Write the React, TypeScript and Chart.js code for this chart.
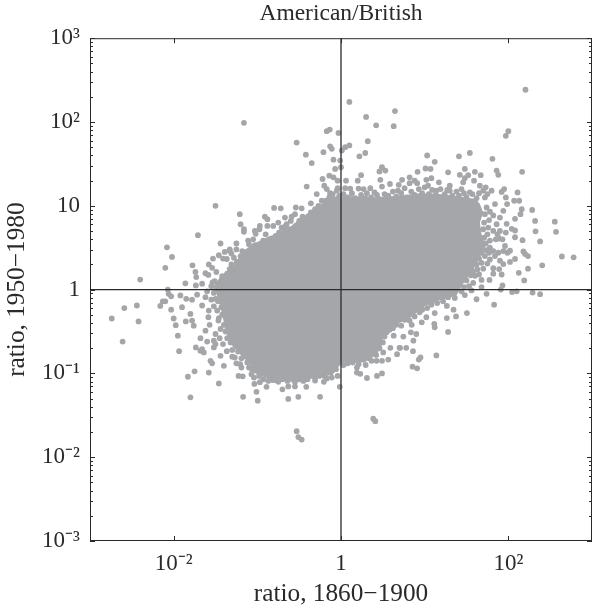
import React, { useEffect, useRef } from "react";
import { Chart, registerables } from "chart.js";

Chart.register(...registerables);

const titleText = "American/British";
const xLabel = "ratio, 1860\u22121900";
const yLabel = "ratio, 1950\u22121980";
const xTicks = [0.01, 1, 100];
const yTicks = [0.001, 0.01, 0.1, 1, 10, 100, 1000];
const yMinorFactors = [2, 3, 4, 5, 6, 7, 8, 9];
const yTickText: Record<string, string> = {
  "0.001": "10\u207B\u00B3", "0.01": "10\u207B\u00B2", "0.1": "10\u207B\u00B9", "1": "1",
  "10": "10", "100": "10\u00B2", "1000": "10\u00B3",
};
const xTickText: Record<string, string> = { "0.01": "10\u207B\u00B2", "1": "1", "100": "10\u00B2" };

// Outline of the solid mass of overlapping dots, as [log10 x, log10 y]
const denseOutline: [number, number][] = [
  [.05,1.12],[.35,1.10],[.70,1.12],[.94,1.15],[1.18,1.14],[1.42,1.11],[1.61,1.08],[1.66,1.02],[1.70,.92],[1.66,.80],
  [1.68,.66],[1.72,.54],[1.66,.38],[1.58,.24],[1.46,.07],[1.38,-.07],[1.17,-.13],[1.00,-.20],[.81,-.35],[.60,-.44],
  [.50,-.56],[.49,-.66],[.43,-.77],[.28,-.87],[.01,-.87],[-.10,-1.02],[-.33,-1.05],[-.49,-1.07],[-.69,-1.07],[-.88,-1.06],
  [-1.05,-.99],[-1.10,-.87],[-1.20,-.78],[-1.31,-.66],[-1.38,-.50],[-1.42,-.29],[-1.47,-.10],[-1.52,.04],[-1.44,.16],[-1.28,.29],
  [-1.16,.47],[-1.02,.56],[-.85,.64],[-.68,.69],[-.48,.85],[-.32,.97],[-.15,1.07],
];

// Individually visible dots, as [log10 x, log10 y]
const upperLeftDots: [number, number][] = [
  [-1.16,1.99],[-1.50,1.00],[-1.71,.65],[-2.02,.39],[-1.44,.55],[-1.21,.90],[-1.20,.78],[-1.16,.72],[-1.16,.69],[-1.11,.585],
  [-1.10,.54],[-1.39,.45],[-1.33,.48],[-1.25,.48],[-1.18,.46],[-1.31,.43],[-1.46,.41],[-1.53,.37],[-1.41,.37],[-1.20,.40],
  [-1.12,.41],[-1.01,.43],[-.97,.40],[-1.02,.665],[-1.03,.70],[-.97,.76],[-.975,.72],[-.91,.87],[-.88,.84],[-.88,.76],
  [-.81,.76],[-.80,.975],[-.72,.97],[-.54,.98],[-.47,.97],[-.41,1.23],[-.36,1.03],[-.67,.86],[-.59,.87],[-.67,.75],
  [-.71,.74],[-.65,.78],[-.77,.62],[-.85,.585],[-.93,.585],[-.89,.505],[-.53,1.755],[-.42,1.61],[-.35,1.51],[-.21,1.64],
  [-.13,1.71],[-.11,1.68],[-.17,1.89],[-.135,1.91],[-.03,1.87],[-.09,1.55],[-.07,1.44],[-.22,1.32],[-.14,1.36],[-.09,1.34],
  [-.20,1.24],[-.17,1.20],[-.29,1.14],[-.23,1.06],[-.13,1.15],[-.05,1.18],[-.04,1.30],[-.01,1.54],[0,1.46],
];
const upperRightDots: [number, number][] = [
  [.10,2.24],[.30,2.06],[.645,2.13],[.42,1.96],[.63,1.95],[.32,1.77],[.10,1.72],[.05,1.70],[.01,1.66],[.29,1.63],
  [.22,1.59],[.24,1.365],[.06,1.30],[.20,1.30],[.49,1.46],[.46,1.41],[.53,1.42],[.47,1.31],[1.03,1.60],[1.12,1.525],
  [1.41,1.59],[1.54,1.63],[1.81,1.56],[.915,1.405],[1.01,1.445],[1.07,1.44],[1.28,1.40],[1.48,1.44],[1.42,1.37],[1.60,1.405],
  [1.67,1.365],[1.52,1.365],[1.48,1.33],[1.59,1.30],[1.86,1.42],[1.88,1.37],[.82,1.34],[.73,1.31],[.88,1.30],[1.02,1.31],
  [1.08,1.33],[1.17,1.28],[1.30,1.24],[1.46,1.28],[1.66,1.24],[1.73,1.22],[1.80,1.18],[.82,1.27],[.91,1.27],[.69,1.25],
  [.585,1.26],[.49,1.23],[.35,1.21],[.27,1.20],[.21,1.205],[.11,1.205],[.05,1.21],[-.04,1.21],[.29,1.09],[.43,1.13],
  [.565,1.12],[.68,1.18],[1.04,1.24],[1.14,1.18],[1.30,1.18],[1.44,1.20],[1.54,1.16],[1.70,1.18],[1.84,1.02],[1.82,.885],
  [1.86,.78],[1.82,.70],[1.78,.585],[2.205,2.385],[2.00,1.89],[1.97,1.835],[2.165,1.405],[2.11,1.16],[1.95,1.20],[1.92,1.165],
  [1.97,1.10],[2.07,1.06],[2.13,1.06],[1.985,1.02],[2.16,.96],[2.145,.90],[2.285,.95],[2.08,.845],[2.32,.82],[2.555,.81],
  [1.94,.94],[1.90,.86],[2.57,.69],[2.325,.695],[2.38,.575],[2.17,.59],[2.08,.705],[2.04,.725],[1.98,.785],[2.08,.625],
  [2.64,.395],[2.78,.385],[2.405,.29],[2.235,.25],[2.125,.20],[2.19,.11],[2.18,.455],[2.20,.425],[2.235,.40],[2.08,.365],
  [2.02,.465],[2.02,.33],[1.94,.305],[1.90,.345],[1.89,.245],[1.82,.255],[1.92,.18],[1.82,.19],[1.775,.115],[1.93,.05],
  [1.91,0],[2.045,-.03],[2.10,-.02],[2.29,-.035],[2.38,-.055],[1.74,-.05],[1.68,.03],[1.68,.115],[1.60,.165],[1.50,.11],[1.56,-.01],
];
const lowerRightDots: [number, number][] = [
  [1.83,-.18],[1.62,-.115],[1.48,-.065],[1.505,-.28],[1.265,-.195],[1.345,-.24],[1.375,-.32],[1.265,-.34],[1.28,-.505],[1.14,-.785],
  [.95,-.81],[.93,-.835],[.855,-.92],[.91,-.94],[.86,-.735],[.78,-.695],[.705,-.695],[.865,-.61],[.90,-.53],[.835,-.51],
  [.745,-.56],[1.12,-.45],[1.115,-.41],[.965,-.39],[1.02,-.33],[1.12,-.28],[.94,-.27],[.845,-.42],[.385,-1.54],[.41,-1.57],
  [.31,-1.055],[.43,-1.03],[.49,-1.00],[.23,-1.005],[.19,-.99],[.21,-.89],[.295,-.90],[.565,-.835],[.67,-.77],[.70,-.695],
  [.59,-.695],[.505,-.75],[.49,-.85],[.425,-.85],[.365,-.85],[.63,-.55],[.545,-.51],
];
const lowerLeftDots: [number, number][] = [
  [-.53,-1.69],[-.51,-1.76],[-.47,-1.79],[-1.17,-1.28],[-.995,-1.325],[-1.01,-1.22],[-1.46,-1.12],[-1.58,-.99],[-1.40,-.91],[-1.54,-.88],
  [-1.56,-.85],[-1.64,-.75],[-1.68,-.73],[-1.52,-.69],[-1.44,-.79],[-1.365,-.735],[-1.27,-.81],[-1.205,-.89],[-1.19,-.93],[-1.225,-1.03],
  [-1.175,-1.035],[-1.065,-.95],[-1.035,-1.125],[-.97,-1.105],[-.89,-1.16],[-.70,-1.19],[-.63,-1.305],[-.51,-1.28],[-.25,-1.28],[-.415,-1.16],
  [-.63,-1.155],[-.55,-1.155],[-.015,-1.16],[-.31,-1.085],[-.205,-1.10],[-.415,-1.055],[-.79,-1.08],[-1.62,-.49],[-1.52,-.61],
  [-2.08,.505],[-2.10,.26],[-2.40,.12],[-1.775,.29],[-1.74,.21],[-1.73,.15],[-1.86,.075],[-1.735,.05],[-1.66,.07],[-2.07,0],
  [-2.06,-.05],[-2.03,-.08],[-1.92,-.07],[-1.85,-.11],[-1.78,-.12],[-1.72,-.06],[-1.62,.195],[-1.585,.175],[-1.535,.087],[-1.54,.26],
  [-1.49,.21],[-2.13,-.14],[-2.10,-.14],[-2.16,-.195],[-2.44,-.19],[-2.59,-.22],[-2.74,-.345],[-2.42,-.38],[-2.61,-.62],[-2.03,-.24],
  [-2.00,-.345],[-1.975,-.425],[-1.95,-.55],[-1.935,-.735],[-1.83,-1.04],[-1.75,-.975],[-1.80,-1.285],[-1.90,-.21],[-1.80,-.29],[-1.855,-.38],
  [-1.78,-.37],[-1.76,-.43],[-1.66,-.19],[-1.62,-.09],[-1.50,-.11],[-1.585,-.33],[-1.68,-.58],[-1.735,-.69],[-1.66,-.71],[-1.50,-.65],
  [-1.50,-.53],[-1.465,-.37],[-1.405,-.17],[-1.42,.11],[-1.33,.245],[-1.245,.325],[-1.365,.365],[-1.205,.165],[-1.33,.465],
];
// Dots crowding the edge of the solid mass, as [log10 x, log10 y]
const upperEdgeDots: [number, number][] = [
  [-.02,1.12],[.03,1.14],[.08,1.10],[.13,1.15],[.17,1.09],[.24,1.13],[.31,1.15],[.36,1.10],[.40,1.16],[.46,1.08],
  [.52,1.14],[.58,1.08],[.62,1.17],[.66,1.11],[.72,1.15],[.76,1.21],[.78,1.10],[.84,1.17],[.88,1.13],[.93,1.20],
  [.97,1.15],[1.00,1.22],[1.05,1.14],[1.09,1.19],[1.13,1.13],[1.19,1.20],[1.24,1.14],[1.27,1.19],[1.33,1.12],[1.38,1.17],
  [1.41,1.12],[1.47,1.15],[1.50,1.10],[1.57,1.14],[1.62,1.09],[1.65,1.15],[1.72,1.10],[1.75,1.14],
];
const rightEdgeDots: [number, number][] = [
  [1.74,.98],[1.78,.93],[1.72,.90],[1.77,.83],[1.71,.80],[1.76,.74],[1.70,.72],[1.75,.66],[1.71,.62],[1.73,.55],
  [1.69,.50],[1.74,.47],[1.77,.44],[1.68,.44],[1.72,.40],[1.65,.37],[1.78,.36],[1.75,.31],[1.68,.32],[1.62,.30],
  [1.70,.25],[1.63,.24],[1.58,.22],[1.65,.18],[1.55,.17],[1.50,.19],[1.58,.08],[1.47,.03],[1.53,.04],[1.44,-.02],
  [1.85,.60],[1.89,.61],[1.93,.60],[1.87,.66],[1.90,.70],[1.97,.68],[1.96,.52],[1.88,.44],[1.82,.46],[1.78,.50],
  [1.99,.44],[1.94,.46],[1.84,.40],
];
const lowerEdgeDots: [number, number][] = [
  [1.36,-.10],[1.28,-.09],[1.22,-.14],[1.30,-.04],[1.15,-.16],[1.08,-.18],[1.12,-.12],[1.03,-.22],[.97,-.24],[.92,-.22],
  [.88,-.32],[.82,-.37],[.76,-.36],[.72,-.43],[.66,-.42],[.62,-.46],[.58,-.48],[.52,-.56],[.47,-.49],[.50,-.63],
  [.44,-.62],[.46,-.70],[.40,-.68],[.42,-.78],[.36,-.76],[.34,-.82],[.28,-.80],[.19,-.93],[.14,-.87],[.08,-.88],
  [.03,-.90],[-.09,-.90],[-.06,-.95],[-.04,-1.03],[-.11,-1.05],[-.14,-.98],[-.17,-1.06],[-.20,-1.03],[-.26,-1.03],[-.23,-1.00],
  [-.31,-1.05],[-.36,-1.03],[-.40,-1.07],[-.45,-1.09],[-.50,-1.07],[-.55,-1.10],[-.58,-1.07],[-.64,-1.09],[-.70,-1.07],[-.75,-1.10],
  [-.82,-1.08],[-.87,-1.09],[-.93,-1.07],[-.98,-1.03],[-1.04,-1.05],[-1.07,-1.01],
];
const leftEdgeDots: [number, number][] = [
  [-1.10,-.93],[-1.12,-.87],[-1.13,-.80],[-1.19,-.82],[-1.23,-.74],[-1.30,-.72],[-1.32,-.63],[-1.36,-.58],[-1.41,-.65],[-1.38,-.50],
  [-1.44,-.47],[-1.40,-.42],[-1.46,-.34],[-1.42,-.30],[-1.48,-.25],[-1.43,-.21],[-1.52,-.20],[-1.47,-.14],[-1.55,-.12],[-1.45,-.06],
  [-1.52,-.04],[-1.49,.02],[-1.55,.04],[-1.45,.06],[-1.51,.10],[-1.42,.16],[-1.36,.19],[-1.29,.21],[-1.31,.30],[-1.24,.33],
  [-1.21,.28],[-1.17,.36],[-1.28,.38],[-1.10,.45],[-1.07,.48],[-1.03,.53],[-.95,.55],[-.91,.52],[-.85,.60],[-.78,.64],
  [-.74,.68],[-.68,.70],[-.62,.72],[-.58,.70],[-.54,.76],[-.50,.82],[-.46,.87],[-.40,.84],[-.36,.92],[-.31,.96],
  [-.27,1.00],[-.22,.97],[-.18,1.06],[-.14,1.10],[-.08,1.08],[-.10,1.14],[-.03,1.09],[-1.58,-.25],[-1.60,-.02],[-1.57,-.42],
  [-1.60,-.62],[-1.25,-.88],[-1.30,-.80],[-1.45,-.58],[-1.58,.30],[-1.25,.55],[-1.05,.60],[-.90,.66],[-.60,.82],[-.75,.80],
  [-.55,.90],
];

const fromDecades = (pairs: [number, number][]) => pairs.map(([a, b]) => ({ x: 10 ** a, y: 10 ** b }));
const DOT = "#a5a6a9";
const INK = "#2b2a2b";
const FONT = '"Liberation Serif"';

export default function App() {
  const ref = useRef<HTMLCanvasElement | null>(null);
  useEffect(() => {
    document.body.style.margin = "0";
    const framePlugin = {
      id: "frame",
      afterLayout(chart: any) {
        const { chartArea, scales, titleBlock, width } = chart;
        chartArea.right = width;
        chartArea.width = width - chartArea.left;
        scales.x.right = width;
        scales.x.width = chartArea.width;
        scales.x.configure();
        titleBlock.right = width;
        titleBlock.width = chartArea.width;
      },
      beforeDatasetsDraw(chart: any) {
        const { ctx, scales } = chart;
        ctx.save();
        ctx.fillStyle = DOT;
        ctx.beginPath();
        denseOutline.forEach(([a, b], i) => {
          const px = scales.x.getPixelForValue(10 ** a);
          const py = scales.y.getPixelForValue(10 ** b);
          if (i === 0) ctx.moveTo(px, py);
          else ctx.lineTo(px, py);
        });
        ctx.closePath();
        ctx.fill();
        ctx.restore();
      },
      afterDatasetsDraw(chart: any) {
        const { ctx, chartArea: a, scales } = chart;
        ctx.save();
        ctx.strokeStyle = INK;
        ctx.lineWidth = 1;
        ctx.strokeRect(a.left + 0.5, a.top + 0.5, a.right - a.left - 1, a.bottom - a.top - 1);
        ctx.beginPath();
        xTicks.forEach((v) => {
          const p = Math.round(scales.x.getPixelForValue(v)) + 0.5;
          ctx.moveTo(p, a.top); ctx.lineTo(p, a.top + 5);
          ctx.moveTo(p, a.bottom); ctx.lineTo(p, a.bottom - 5);
        });
        yTicks.forEach((v) => {
          const p = Math.round(scales.y.getPixelForValue(v)) + 0.5;
          ctx.moveTo(a.left, p); ctx.lineTo(a.left + 5, p);
          ctx.moveTo(a.right, p); ctx.lineTo(a.right - 5, p);
          if (v < 1000) {
            yMinorFactors.forEach((f) => {
              const q = Math.round(scales.y.getPixelForValue(v * f)) + 0.5;
              ctx.moveTo(a.left, q); ctx.lineTo(a.left + 3, q);
              ctx.moveTo(a.right, q); ctx.lineTo(a.right - 3, q);
            });
          }
        });
        ctx.stroke();
        ctx.restore();
      },
    };
    const chart = new Chart(ref.current as HTMLCanvasElement, {
      type: "scatter",
      plugins: [framePlugin],
      data: {
        datasets: [
          {
            label: "Zero line x",
            data: [{ x: 1, y: 0.001 }, { x: 1, y: 1000 }],
            showLine: true, borderColor: INK, borderWidth: 1.3, pointRadius: 0, order: 0,
          },
          {
            label: "Zero line y",
            data: [{ x: 0.001, y: 1 }, { x: 1000, y: 1 }],
            showLine: true, borderColor: INK, borderWidth: 1.3, pointRadius: 0, order: 0,
          },
          ...[upperLeftDots, upperRightDots, lowerRightDots, lowerLeftDots, upperEdgeDots, rightEdgeDots, lowerEdgeDots, leftEdgeDots].map((d, i) => ({
            label: "Words " + i,
            data: fromDecades(d),
            backgroundColor: DOT, borderWidth: 0, pointRadius: 2.9, order: 1,
          })),
        ],
      },
      options: {
        responsive: false,
        animation: false,
        layout: { padding: 0 },
        plugins: {
          legend: { display: false },
          tooltip: { enabled: false },
          title: {
            display: true, text: titleText, color: INK, fullSize: false,
            font: { family: FONT, size: 23.5, weight: "normal" },
            padding: { top: 0, bottom: 10 },
          },
        },
        scales: {
          x: {
            type: "logarithmic", min: 0.001, max: 1000,
            grid: { display: false, drawTicks: false }, border: { display: false },
            afterBuildTicks: (s: any) => { s.ticks = xTicks.map((value) => ({ value })); },
            afterFit: (s: any) => { s.height = 66; },
            ticks: {
              color: INK, font: { family: FONT, size: 23 }, padding: 9, maxRotation: 0, autoSkip: false,
              callback: (v: any) => xTickText[String(v)] ?? "",
            },
            title: {
              display: true, text: xLabel, color: INK,
              font: { family: FONT, size: 25.3 }, padding: { top: 0, bottom: -3 },
            },
          },
          y: {
            type: "logarithmic", min: 0.001, max: 1000,
            grid: { display: false, drawTicks: false }, border: { display: false },
            afterBuildTicks: (s: any) => { s.ticks = yTicks.map((value) => ({ value })); },
            afterFit: (s: any) => { s.width = 90; },
            ticks: {
              color: INK, font: { family: FONT, size: 23 }, padding: 10, autoSkip: false,
              callback: (v: any) => yTickText[String(v)] ?? "",
            },
            title: {
              display: true, text: yLabel, color: INK,
              font: { family: FONT, size: 25.3 }, padding: { top: 2, bottom: 0 },
            },
          },
        },
      },
    } as any);
    return () => chart.destroy();
  }, []);
  return <canvas ref={ref} width={592} height={607} style={{ display: "block" }} />;
}
